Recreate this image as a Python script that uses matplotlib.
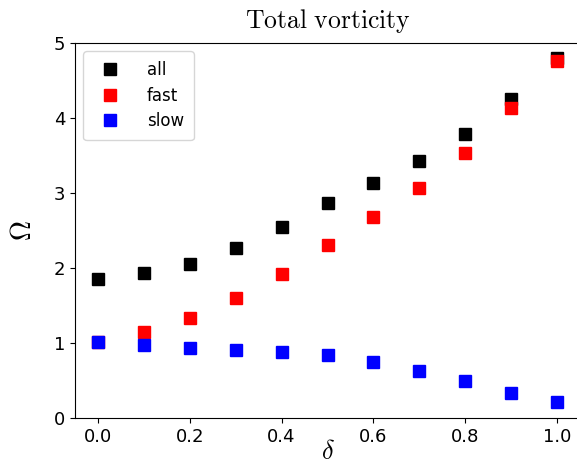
import numpy as np
import matplotlib
matplotlib.use('Agg')
import matplotlib.pyplot as plt

plt.rcParams['mathtext.fontset'] = 'cm'

delta = [0.0, 0.1, 0.2, 0.3, 0.4, 0.5, 0.6, 0.7, 0.8, 0.9, 1.0]
omega_all = [1.85, 1.94, 2.06, 2.27, 2.55, 2.87, 3.14, 3.43, 3.79, 4.26, 4.80]
omega_fast = [1.02, 1.15, 1.34, 1.60, 1.92, 2.31, 2.68, 3.07, 3.53, 4.13, 4.76]
omega_slow = [1.02, 0.98, 0.94, 0.91, 0.88, 0.84, 0.75, 0.63, 0.50, 0.34, 0.22]

fig = plt.figure(figsize=(5.77, 4.68), dpi=100)
# axes runs a little past the right edge, as in the cropped original
ax = fig.add_axes([75 / 577, 50 / 468, 505 / 577, 375 / 468])

ax.plot(delta, omega_all, 's', color='black', markersize=8, label='all')
ax.plot(delta, omega_fast, 's', color='red', markersize=8, label='fast')
ax.plot(delta, omega_slow, 's', color='blue', markersize=8, label='slow')

ax.set_xlim(-0.05, 1.05)
ax.set_ylim(0, 5)
ax.set_yticks([0, 1, 2, 3, 4, 5])
ax.tick_params(labelsize=13)
ax.set_xlabel(r'$\delta$', fontsize=19, labelpad=-5)
ax.set_ylabel(r'$\Omega$', fontsize=20, labelpad=12)
ax.set_title(r'$\mathrm{Total\ vorticity}$', fontsize=18.5, pad=11)
ax.legend(loc='upper left', fontsize=12, borderpad=0.6, labelspacing=0.45,
          handletextpad=1.2)

fig.savefig('out.png', dpi=100)
